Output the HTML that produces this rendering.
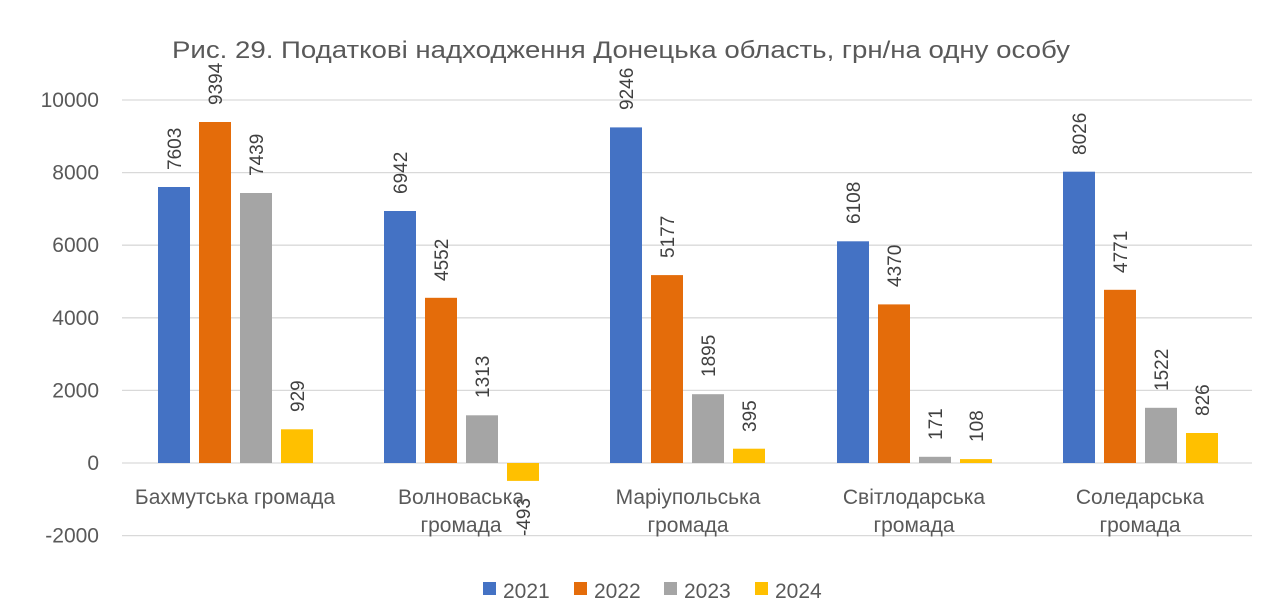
<!DOCTYPE html>
<html><head><meta charset="utf-8"><style>
html,body{margin:0;padding:0;background:#fff;}
svg{display:block;font-family:"Liberation Sans","DejaVu Sans",sans-serif;}
</style></head><body>
<svg width="1280" height="615" viewBox="0 0 1280 615" xmlns="http://www.w3.org/2000/svg">
<rect width="1280" height="615" fill="#fff"/>
<text x="172" y="58" font-size="24" fill="#595959" textLength="898" lengthAdjust="spacingAndGlyphs">Рис. 29. Податкові надходження Донецька область, грн/на одну особу</text>
<g stroke="#d9d9d9" stroke-width="1.3">
<line x1="122" x2="1252" y1="100" y2="100"/>
<line x1="122" x2="1252" y1="172.6" y2="172.6"/>
<line x1="122" x2="1252" y1="245.2" y2="245.2"/>
<line x1="122" x2="1252" y1="317.8" y2="317.8"/>
<line x1="122" x2="1252" y1="390.4" y2="390.4"/>
<line x1="122" x2="1252" y1="463" y2="463"/>
<line x1="122" x2="1252" y1="535.6" y2="535.6"/>
</g>
<g font-size="21" fill="#595959" text-anchor="end">
<text x="99" y="107">10000</text>
<text x="99" y="179.6">8000</text>
<text x="99" y="252.2">6000</text>
<text x="99" y="324.8">4000</text>
<text x="99" y="397.4">2000</text>
<text x="99" y="470">0</text>
<text x="99" y="542.6">-2000</text>
</g>
<g>
<rect x="158" y="187" width="32" height="276" fill="#4472c4"/>
<rect x="199" y="122" width="32" height="341" fill="#e46c0a"/>
<rect x="240" y="193" width="32" height="270" fill="#a5a5a5"/>
<rect x="281" y="429.3" width="32" height="33.7" fill="#ffc000"/>
<rect x="384" y="211" width="32" height="252" fill="#4472c4"/>
<rect x="425" y="297.8" width="32" height="165.2" fill="#e46c0a"/>
<rect x="466" y="415.3" width="32" height="47.7" fill="#a5a5a5"/>
<rect x="507" y="463" width="32" height="17.9" fill="#ffc000"/>
<rect x="610" y="127.4" width="32" height="335.6" fill="#4472c4"/>
<rect x="651" y="275.1" width="32" height="187.9" fill="#e46c0a"/>
<rect x="692" y="394.2" width="32" height="68.8" fill="#a5a5a5"/>
<rect x="733" y="448.7" width="32" height="14.3" fill="#ffc000"/>
<rect x="837" y="241.3" width="32" height="221.7" fill="#4472c4"/>
<rect x="878" y="304.4" width="32" height="158.6" fill="#e46c0a"/>
<rect x="919" y="456.8" width="32" height="6.2" fill="#a5a5a5"/>
<rect x="960" y="459.1" width="32" height="3.9" fill="#ffc000"/>
<rect x="1063" y="171.7" width="32" height="291.3" fill="#4472c4"/>
<rect x="1104" y="289.8" width="32" height="173.2" fill="#e46c0a"/>
<rect x="1145" y="407.8" width="32" height="55.2" fill="#a5a5a5"/>
<rect x="1186" y="433" width="32" height="30" fill="#ffc000"/>
</g>
<g font-size="19" fill="#404040">
<text transform="translate(181,170) rotate(-90)">7603</text>
<text transform="translate(222,105) rotate(-90)">9394</text>
<text transform="translate(263,176) rotate(-90)">7439</text>
<text transform="translate(304,412) rotate(-90)">929</text>
<text transform="translate(407,194) rotate(-90)">6942</text>
<text transform="translate(448,281) rotate(-90)">4552</text>
<text transform="translate(489,398) rotate(-90)">1313</text>
<text transform="translate(530,498) rotate(-90)" text-anchor="end">-493</text>
<text transform="translate(633,110) rotate(-90)">9246</text>
<text transform="translate(674,258) rotate(-90)">5177</text>
<text transform="translate(715,377) rotate(-90)">1895</text>
<text transform="translate(756,432) rotate(-90)">395</text>
<text transform="translate(860,224) rotate(-90)">6108</text>
<text transform="translate(901,287) rotate(-90)">4370</text>
<text transform="translate(942,440) rotate(-90)">171</text>
<text transform="translate(983,442) rotate(-90)">108</text>
<text transform="translate(1086,155) rotate(-90)">8026</text>
<text transform="translate(1127,273) rotate(-90)">4771</text>
<text transform="translate(1168,391) rotate(-90)">1522</text>
<text transform="translate(1209,416) rotate(-90)">826</text>
</g>
<g font-size="21" fill="#595959" text-anchor="middle">
<text x="235" y="504">Бахмутська громада</text>
<text x="461" y="504">Волноваська</text>
<text x="461" y="532">громада</text>
<text x="688" y="504">Маріупольська</text>
<text x="688" y="532">громада</text>
<text x="914" y="504">Світлодарська</text>
<text x="914" y="532">громада</text>
<text x="1140" y="504">Соледарська</text>
<text x="1140" y="532">громада</text>
</g>
<g font-size="21" fill="#595959">
<rect x="483" y="582" width="13" height="13" fill="#4472c4"/><text x="503" y="598">2021</text>
<rect x="574" y="582" width="13" height="13" fill="#e46c0a"/><text x="594" y="598">2022</text>
<rect x="664" y="582" width="13" height="13" fill="#a5a5a5"/><text x="684" y="598">2023</text>
<rect x="755" y="582" width="13" height="13" fill="#ffc000"/><text x="775" y="598">2024</text>
</g>
</svg>
</body></html>
